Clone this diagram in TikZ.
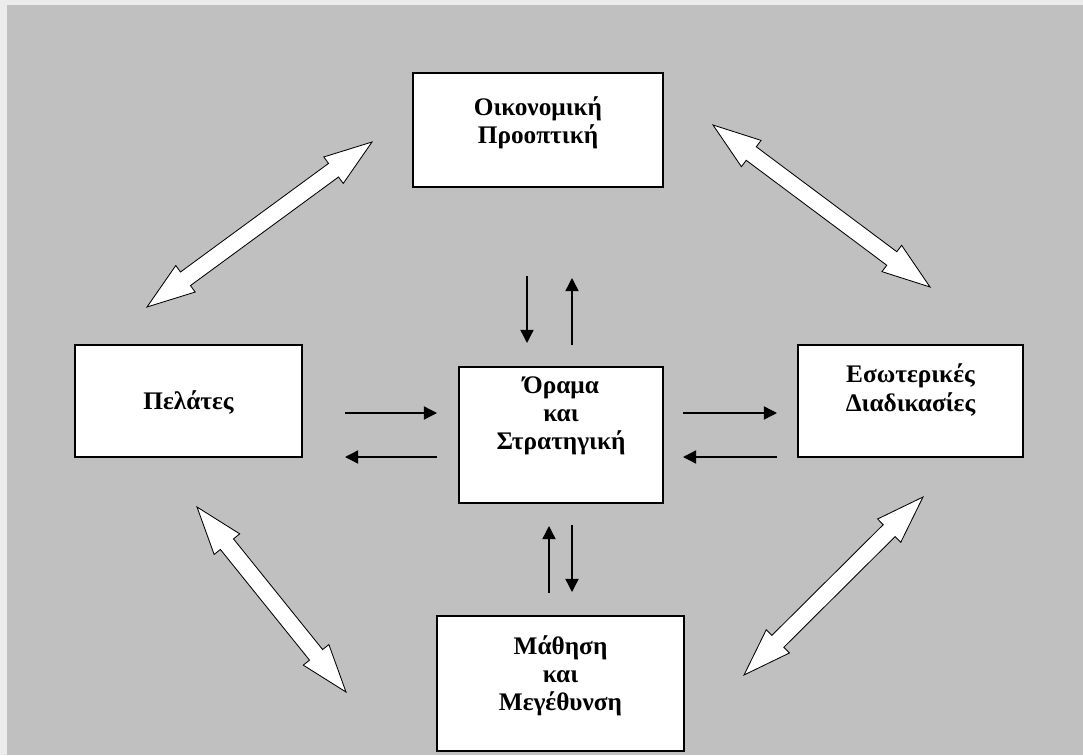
\documentclass[tikz,border=0pt]{standalone}
\usepackage{fontspec}
\setmainfont{Liberation Serif}
\usepackage{xcolor}
\usetikzlibrary{positioning,arrows.meta,shapes.arrows,calc}

\definecolor{bgGray}{RGB}{192,192,192}
\definecolor{rimGray}{RGB}{236,236,236}

\begin{document}
\begin{tikzpicture}[
  x=0.025cm, y=-0.025cm,
  box/.style={draw, rectangle, fill=white, line width=0.8pt, inner sep=0pt},
  boxtext/.style={font=\bfseries\fontsize{18}{20}\selectfont, align=center, inner sep=0pt},
  flow/.style={-{Triangle[length=0.33cm, width=0.33cm]}, line width=1pt},
  bigarrow/.style={double arrow, draw, fill=white, line width=0.6pt, sloped,
    inner xsep=0pt, inner ysep=0.2cm, double arrow head extend=0.2cm,
    double arrow tip angle=38}
]

% Canvas
\useasboundingbox (0,0) rectangle (1083,755);
\fill[rimGray] (0,0) rectangle (1083,755);
\fill[bgGray] (7,5) rectangle (1083,755);

% Boxes
\node[box, minimum width=6.25cm, minimum height=2.85cm] (finance) at (538,130) {};
\node[boxtext] (financeText) at (538,123) {Οικονομική\\Προοπτική};

\node[box, minimum width=5.675cm, minimum height=2.8cm] (clients) at (188.5,401) {};
\node[boxtext] (clientsText) at (188.5,403) {Πελάτες};

\node[box, minimum width=5.625cm, minimum height=2.8cm] (process) at (910.5,401) {};
\node[boxtext] (processText) at (910.5,390) {Εσωτερικές\\Διαδικασίες};

\node[box, minimum width=5.1cm, minimum height=3.4cm] (vision) at (561,435) {};
\node[boxtext] (visionText) at (561,416) {Όραμα\\και\\Στρατηγική};

\node[box, minimum width=6.175cm, minimum height=3.375cm] (learning) at (560.5,683.5) {};
\node[boxtext] (learningText) at (560.5,676) {Μάθηση\\και\\Μεγέθυνση};

% Arrows around the vision box
\coordinate (vt1) at (527,276);
\coordinate (vt2) at (527,343);
\draw[flow] (vt1) -- (vt2);
\coordinate (vt3) at (572,345);
\coordinate (vt4) at (572,278);
\draw[flow] (vt3) -- (vt4);

\coordinate (vb1) at (549,593);
\coordinate (vb2) at (549,526);
\draw[flow] (vb1) -- (vb2);
\coordinate (vb3) at (572,525);
\coordinate (vb4) at (572,592);
\draw[flow] (vb3) -- (vb4);

\coordinate (vl1) at (345,413);
\coordinate (vl2) at (437,413);
\draw[flow] (vl1) -- (vl2);
\coordinate (vl3) at (437,457);
\coordinate (vl4) at (345,457);
\draw[flow] (vl3) -- (vl4);

\coordinate (vr1) at (683,413);
\coordinate (vr2) at (777,413);
\draw[flow] (vr1) -- (vr2);
\coordinate (vr3) at (777,457);
\coordinate (vr4) at (683,457);
\draw[flow] (vr3) -- (vr4);

% Double arrows between the outer boxes
\coordinate (tl1) at (147,307);
\coordinate (tl2) at (372,142);
\path let \p1=($(tl2)-(tl1)$), \n1={veclen(\x1,\y1)} in
  (tl1) -- node[bigarrow, minimum height=\n1] (tlArrow) {} (tl2);

\coordinate (tr1) at (713,125);
\coordinate (tr2) at (930,287);
\path let \p1=($(tr2)-(tr1)$), \n1={veclen(\x1,\y1)} in
  (tr1) -- node[bigarrow, minimum height=\n1] (trArrow) {} (tr2);

\coordinate (bl1) at (197,507);
\coordinate (bl2) at (346,692);
\path let \p1=($(bl2)-(bl1)$), \n1={veclen(\x1,\y1)} in
  (bl1) -- node[bigarrow, minimum height=\n1] (blArrow) {} (bl2);

\coordinate (br1) at (923,497);
\coordinate (br2) at (744,675);
\path let \p1=($(br2)-(br1)$), \n1={veclen(\x1,\y1)} in
  (br1) -- node[bigarrow, minimum height=\n1] (brArrow) {} (br2);

\end{tikzpicture}
\end{document}
